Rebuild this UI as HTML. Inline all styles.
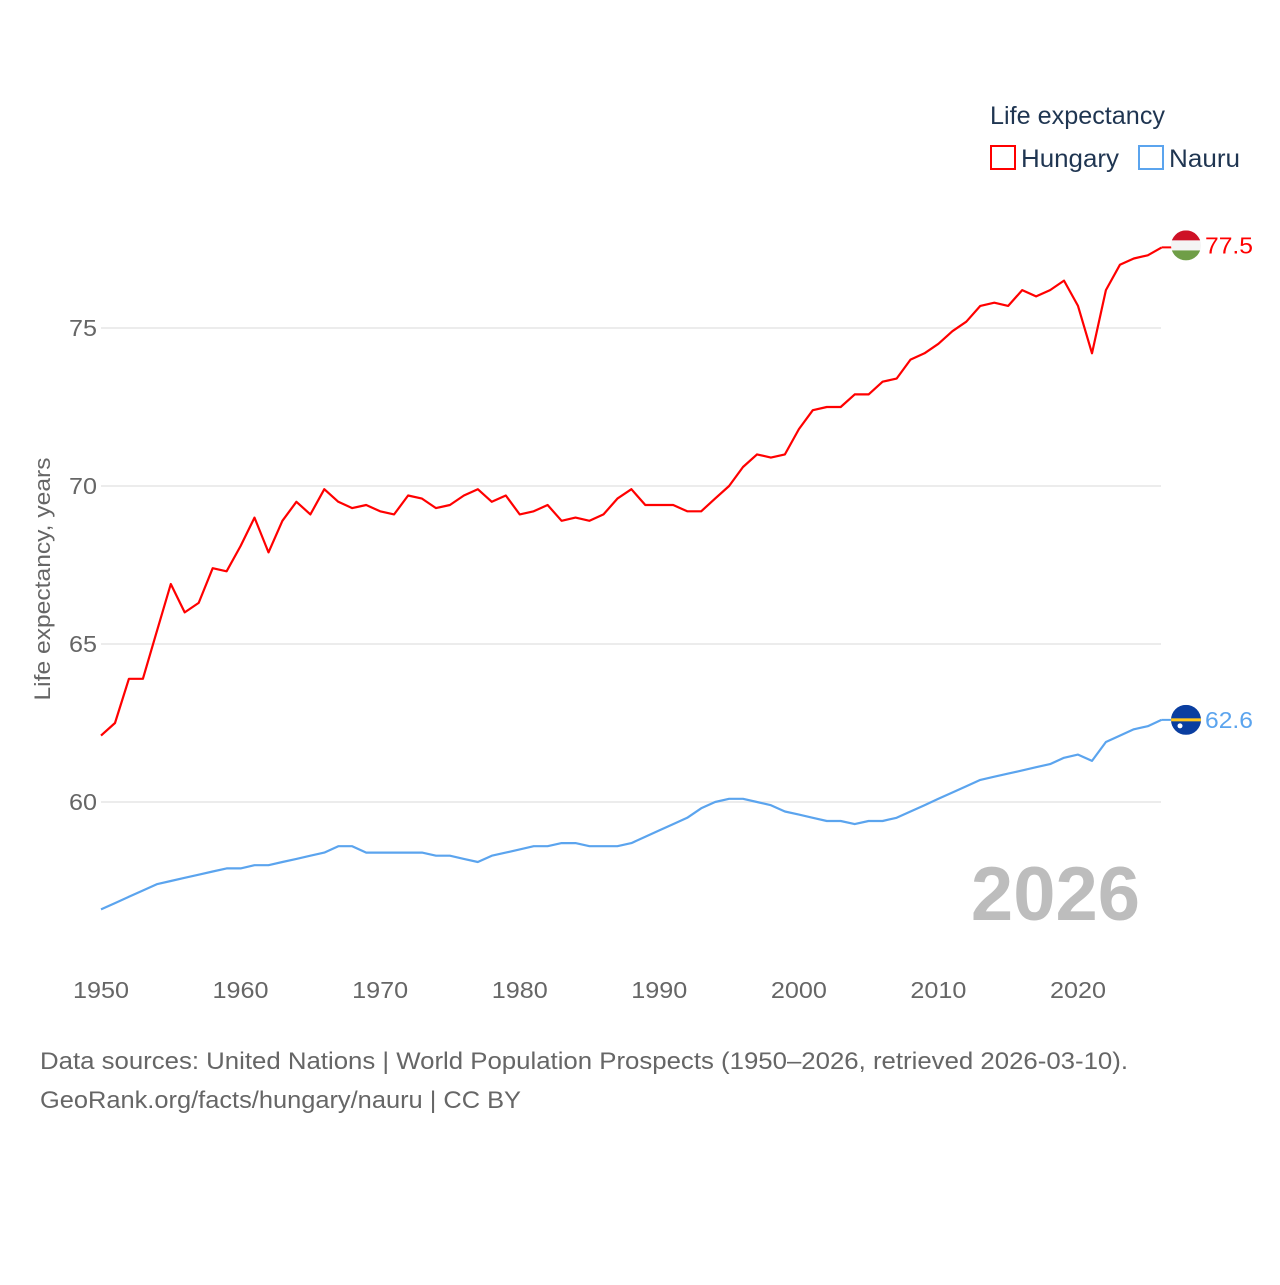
<!DOCTYPE html>
<html><head><meta charset="utf-8"><style>
html,body{margin:0;padding:0;background:#fff;}
body{width:1280px;height:1280px;overflow:hidden;font-family:"Liberation Sans",sans-serif;}
svg text{font-family:"Liberation Sans",sans-serif;}
</style></head><body>
<svg id="chart" width="1280" height="1280" xmlns="http://www.w3.org/2000/svg">
<g id="grid"></g>
<g id="yticks"></g>
<g id="xticks"></g>
<text x="50" y="579" transform="rotate(-90 50 579)" text-anchor="middle" font-size="22" fill="#666" textLength="243" lengthAdjust="spacingAndGlyphs">Life expectancy, years</text>
<text x="1140" y="920" text-anchor="end" font-size="76" font-weight="bold" fill="#bdbdbd">2026</text>
<g id="series"></g>
<g>
<text x="990" y="124" font-size="25" fill="#1f3551" textLength="175" lengthAdjust="spacingAndGlyphs">Life expectancy</text>
<rect x="991" y="146" width="24" height="23" fill="none" stroke="#ff0000" stroke-width="2"/>
<text x="1021" y="167" font-size="25" fill="#1f3551" textLength="98" lengthAdjust="spacingAndGlyphs">Hungary</text>
<rect x="1139" y="146" width="24" height="23" fill="none" stroke="#5ba4ee" stroke-width="2"/>
<text x="1169" y="167" font-size="25" fill="#1f3551" textLength="71" lengthAdjust="spacingAndGlyphs">Nauru</text>
</g>
<g font-size="24" fill="#666">
<text x="40" y="1069" textLength="1088" lengthAdjust="spacingAndGlyphs">Data sources: United Nations | World Population Prospects (1950–2026, retrieved 2026-03-10).</text>
<text x="40" y="1108" textLength="481" lengthAdjust="spacingAndGlyphs">GeoRank.org/facts/hungary/nauru | CC BY</text>
</g>
</svg>
<script>
const years = [];
for (let y = 1950; y <= 2026; y++) years.push(y);
const hungary = [62.1,62.5,63.9,63.9,65.4,66.9,66.0,66.3,67.4,67.3,68.1,69.0,67.9,68.9,69.5,69.1,69.9,69.5,69.3,69.4,69.2,69.1,69.7,69.6,69.3,69.4,69.7,69.9,69.5,69.7,69.1,69.2,69.4,68.9,69.0,68.9,69.1,69.6,69.9,69.4,69.4,69.4,69.2,69.2,69.6,70.0,70.6,71.0,70.9,71.0,71.8,72.4,72.5,72.5,72.9,72.9,73.3,73.4,74.0,74.2,74.5,74.9,75.2,75.7,75.8,75.7,76.2,76.0,76.2,76.5,75.7,74.2,76.2,77.0,77.2,77.3,77.55];
const nauru = [56.6,56.8,57.0,57.2,57.4,57.5,57.6,57.7,57.8,57.9,57.9,58.0,58.0,58.1,58.2,58.3,58.4,58.6,58.6,58.4,58.4,58.4,58.4,58.4,58.3,58.3,58.2,58.1,58.3,58.4,58.5,58.6,58.6,58.7,58.7,58.6,58.6,58.6,58.7,58.9,59.1,59.3,59.5,59.8,60.0,60.1,60.1,60.0,59.9,59.7,59.6,59.5,59.4,59.4,59.3,59.4,59.4,59.5,59.7,59.9,60.1,60.3,60.5,60.7,60.8,60.9,61.0,61.1,61.2,61.4,61.5,61.3,61.9,62.1,62.3,62.4,62.6];
const yTicks = [60,65,70,75];
const xTicks = [1950,1960,1970,1980,1990,2000,2010,2020];
const NS = "http://www.w3.org/2000/svg";
const X = yr => 101 + (yr - 1950) * (1078 - 101) / 70;
const Y = v => 802 - (v - 60) * (802 - 328) / 15;
function mk(tag, attrs, parent, txt) {
  const e = document.createElementNS(NS, tag);
  for (const k in attrs) e.setAttribute(k, attrs[k]);
  if (txt !== undefined) e.textContent = txt;
  parent.appendChild(e); return e;
}
const grid = document.getElementById('grid'), yt = document.getElementById('yticks'), xt = document.getElementById('xticks'), ser = document.getElementById('series');
yTicks.forEach(v => {
  const l = mk('line', {x1: 101, x2: 1161, y1: Y(v), y2: Y(v), stroke: '#e6e6e6', 'stroke-width': 1.5}, grid);
  
  
  const t = mk('text', {x: 97, y: Y(v) + 8, 'text-anchor': 'end', 'font-size': 23, fill: '#666', textLength: 28, lengthAdjust: 'spacingAndGlyphs'}, yt, String(v));
  
  
});
xTicks.forEach(v => {
  const t = mk('text', {x: X(v), y: 998, 'text-anchor': 'middle', 'font-size': 23, fill: '#666', textLength: 56, lengthAdjust: 'spacingAndGlyphs'}, xt, String(v));
  
  
});
function line(data, color, name) {
  const d = data.map((v, i) => (i ? 'L' : 'M') + X(years[i]).toFixed(1) + ',' + Y(v).toFixed(1)).join(' ');
  const p = mk('path', {d: d, fill: 'none', stroke: color, 'stroke-width': 2.2, 'stroke-linejoin': 'round'}, ser);
  
  
}
line(hungary, '#ff0000', 'hungary');
line(nauru, '#5ba4ee', 'nauru');
const last = years.length - 1, cx = 1186, r = 15;
const hy = Y(hungary[last]) - 2, ny = Y(nauru[last]);
mk('line', {x1: X(years[last]), x2: cx, y1: Y(hungary[last]), y2: Y(hungary[last]), stroke: '#ff0000', 'stroke-width': 2}, ser);
mk('line', {x1: X(years[last]), x2: cx, y1: ny, y2: ny, stroke: '#5ba4ee', 'stroke-width': 2}, ser);
const defs = mk('defs', {}, ser);
const c1 = mk('clipPath', {id: 'hc'}, defs); mk('circle', {cx: cx, cy: hy, r: r}, c1);
const c2 = mk('clipPath', {id: 'nc'}, defs); mk('circle', {cx: cx, cy: ny, r: r}, c2);
const hf = mk('g', {'clip-path': 'url(#hc)'}, ser);


mk('rect', {x: cx - r, y: hy - r, width: 2 * r, height: 10, fill: '#ce1126'}, hf);
mk('rect', {x: cx - r, y: hy - r + 10, width: 2 * r, height: 10, fill: '#f4f4f4'}, hf);
mk('rect', {x: cx - r, y: hy - r + 20, width: 2 * r, height: 10, fill: '#6f9e47'}, hf);
const nf = mk('g', {'clip-path': 'url(#nc)'}, ser);


mk('rect', {x: cx - r, y: ny - r, width: 2 * r, height: 2 * r, fill: '#0a3ea0'}, nf);
mk('rect', {x: cx - r, y: ny - 1.5, width: 2 * r, height: 3, fill: '#ffc61e'}, nf);
mk('circle', {cx: cx - 6, cy: ny + 6, r: 2.5, fill: '#fff'}, nf);
const hl = mk('text', {x: 1205, y: hy + 8, 'font-size': 23, fill: '#ff0000', textLength: 48, lengthAdjust: 'spacingAndGlyphs'}, ser, hungary[last].toFixed(1));


const nl = mk('text', {x: 1205, y: ny + 8, 'font-size': 23, fill: '#5ba4ee', textLength: 48, lengthAdjust: 'spacingAndGlyphs'}, ser, nauru[last].toFixed(1));


</script>
</body></html>
